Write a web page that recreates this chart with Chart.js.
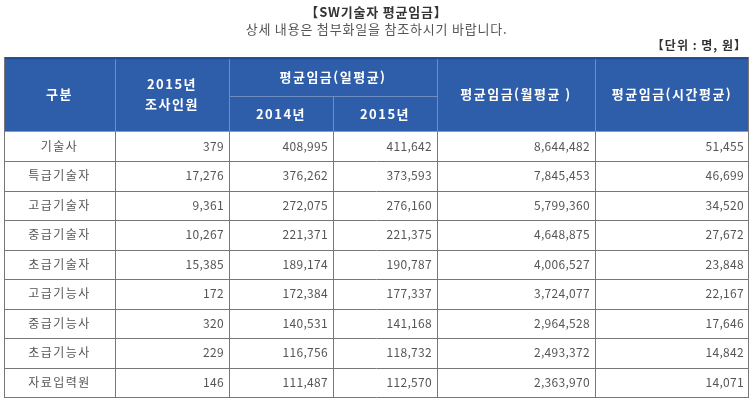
<!DOCTYPE html>
<html lang="ko">
<head>
<meta charset="UTF-8">
<title>SW기술자 평균임금</title>
<script src="https://cdn.jsdelivr.net/npm/chart.js"></script>
<style>
    body { margin: 0; padding: 0; background: #fff; }
    .chart-container { width: 756px; height: 401px; position: relative; }
</style>
</head>
<body>
<div class="chart-container">
    <canvas id="wageTable"></canvas>
</div>
<script>
// table data
const categories = ['기술사', '특급기술자', '고급기술자', '중급기술자', '초급기술자', '고급기능사', '중급기능사', '초급기능사', '자료입력원'];
const surveyed2015 = [379, 17276, 9361, 10267, 15385, 172, 320, 229, 146];
const daily2014 = [408995, 376262, 272075, 221371, 189174, 172384, 140531, 116756, 111487];
const daily2015 = [411642, 373593, 276160, 221375, 190787, 177337, 141168, 118732, 112570];
const monthly = [8644482, 7845453, 5799360, 4648875, 4006527, 3724077, 2964528, 2493372, 2363970];
const hourly = [51455, 46699, 34520, 27672, 23848, 22167, 17646, 14842, 14071];
const columns = [categories, surveyed2015, daily2014, daily2015, monthly, hourly];

// layout (scale units)
const colEdges = [0, 111, 225, 329, 433, 591, 745];
const headTop = 0, headMid = 39, headBottom = 74;
const rowHeight = 29.33;

const FONT = '"Noto Sans CJK KR", "Noto Sans", sans-serif';
const HEAD_BG = '#2e5ea9';

const tablePlugin = {
    id: 'tablePlugin',
    beforeDraw(chart) {
        // wider spacing for title lines, like the original
        chart.ctx.letterSpacing = '0.8px';
    },
    afterDraw(chart) {
        const { ctx, scales: { x, y } } = chart;
        const px = v => x.getPixelForValue(v);
        const py = v => y.getPixelForValue(v);
        ctx.save();

        // unit label
        ctx.letterSpacing = '1px';
        ctx.font = 'bold 12px ' + FONT;
        ctx.fillStyle = '#333';
        ctx.textAlign = 'right';
        ctx.textBaseline = 'middle';
        ctx.fillText('【단위 : 명, 원】', px(745) - 2, py(headTop) - 12);

        // header background
        ctx.fillStyle = HEAD_BG;
        ctx.fillRect(px(0), py(headTop), px(745) - px(0), py(headBottom) - py(headTop));
        ctx.fillStyle = '#1f4a8c';
        ctx.fillRect(px(0), py(headTop), px(745) - px(0), 2);

        // header separators
        ctx.strokeStyle = '#6d8cbf';
        ctx.lineWidth = 1;
        ctx.beginPath();
        for (let i = 1; i < colEdges.length - 1; i++) {
            const xx = Math.round(px(colEdges[i])) + 0.5;
            const top = i === 3 ? py(headMid) : py(headTop) + 2;
            ctx.moveTo(xx, top);
            ctx.lineTo(xx, py(headBottom));
        }
        const ym = Math.round(py(headMid)) + 0.5;
        ctx.moveTo(px(colEdges[2]), ym);
        ctx.lineTo(px(colEdges[4]), ym);
        ctx.stroke();

        // header text
        ctx.letterSpacing = '1.5px';
        ctx.fillStyle = '#fff';
        ctx.font = 'bold 13px ' + FONT;
        ctx.textAlign = 'center';
        const cx = (a, b) => (px(colEdges[a]) + px(colEdges[b])) / 2;
        const midAll = (py(headTop) + py(headBottom)) / 2;
        ctx.fillText('구분', cx(0, 1), midAll);
        ctx.fillText('2015년', cx(1, 2), midAll - 10);
        ctx.fillText('조사인원', cx(1, 2), midAll + 10);
        ctx.fillText('평균임금(일평균)', cx(2, 4), (py(headTop) + py(headMid)) / 2);
        ctx.fillText('2014년', cx(2, 3), (py(headMid) + py(headBottom)) / 2);
        ctx.fillText('2015년', cx(3, 4), (py(headMid) + py(headBottom)) / 2);
        ctx.fillText('평균임금(월평균 )', cx(4, 5), midAll);
        ctx.fillText('평균임금(시간평균)', cx(5, 6), midAll);

        // body grid
        const n = categories.length;
        const bodyBottom = headBottom + n * rowHeight;
        ctx.strokeStyle = '#777';
        ctx.beginPath();
        for (let r = 1; r <= n; r++) {
            const yy = Math.round(py(headBottom + r * rowHeight)) + 0.5;
            ctx.moveTo(px(0), yy);
            ctx.lineTo(px(745), yy);
        }
        colEdges.forEach((c, i) => {
            const xx = Math.round(px(c)) + (i === colEdges.length - 1 ? -0.5 : 0.5);
            ctx.moveTo(xx, i === 0 || i === colEdges.length - 1 ? py(headTop) : py(headBottom));
            ctx.lineTo(xx, py(bodyBottom));
        });
        ctx.stroke();

        // body text
        ctx.font = '12px ' + FONT;
        ctx.fillStyle = '#555';
        for (let r = 0; r < n; r++) {
            const yy = py(headBottom + (r + 0.5) * rowHeight);
            columns.forEach((col, c) => {
                const v = col[r];
                if (c === 0) {
                    ctx.letterSpacing = '1.5px';
                    ctx.textAlign = 'center';
                    ctx.fillText(v, cx(0, 1), yy);
                } else {
                    ctx.letterSpacing = '0.3px';
                    ctx.textAlign = 'right';
                    ctx.fillText(v.toLocaleString('en-US'), px(colEdges[c + 1]) - 5, yy);
                }
            });
        }
        ctx.restore();
    }
};

new Chart(document.getElementById('wageTable'), {
    type: 'scatter',
    data: { datasets: [{ data: [] }] },
    options: {
        responsive: true,
        maintainAspectRatio: false,
        animation: false,
        layout: { padding: { left: 4, right: 7, top: 0, bottom: 4 } },
        scales: {
            x: { type: 'linear', min: 0, max: 745, display: false },
            y: { type: 'linear', min: 0, max: headBottom + categories.length * rowHeight, reverse: true, display: false }
        },
        plugins: {
            legend: { display: false },
            tooltip: { enabled: false },
            title: {
                display: true,
                text: '【SW기술자 평균임금】',
                color: '#333',
                font: { family: FONT, size: 13, weight: 'bold' },
                padding: { top: 4, bottom: 2 }
            },
            subtitle: {
                display: true,
                text: '상세 내용은 첨부화일을 참조하시기 바랍니다.',
                color: '#555',
                font: { family: FONT, size: 13 },
                padding: { top: 0, bottom: 20 }
            }
        }
    },
    plugins: [tablePlugin]
});
</script>
</body>
</html>
